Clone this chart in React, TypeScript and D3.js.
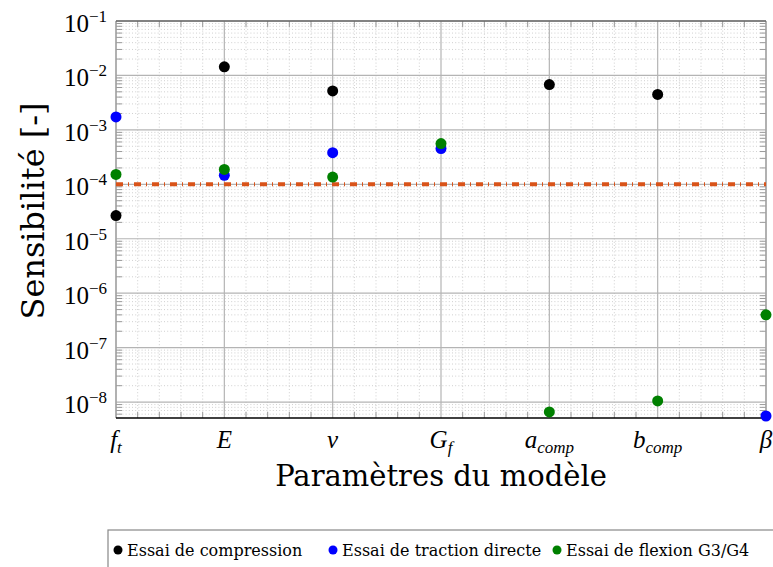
import React, { useRef, useEffect } from 'react';
import * as d3 from 'd3';

// paramètres du modèle (base + indice)
const categories = ['f_t', 'E', 'nu', 'G_f', 'a_comp', 'b_comp', 'beta'];
const catBase = ['f', 'E', 'ν', 'G', 'a', 'b', 'β'];
const catSub = ['t', '', '', 'f', 'comp', 'comp', ''];

// sensibilités (null = hors échelle)
const compression = [2.67e-5, 1.44e-2, 5.2e-3, null, 6.8e-3, 4.47e-3, null];
const traction = [1.73e-3, 1.46e-4, 3.82e-4, 4.53e-4, null, null, 5.55e-9];
const flexion = [1.52e-4, 1.88e-4, 1.36e-4, 5.6e-4, 6.6e-9, 1.05e-8, 4.0e-7];
const threshold = 1e-4;

const yTickExps = [-1, -2, -3, -4, -5, -6, -7, -8];
const seriesNames = ['Essai de compression', 'Essai de traction directe', 'Essai de flexion G3/G4'];
const seriesColors = ['#000000', '#0000ff', '#008000'];

const W = 773;
const H = 567;
const serif = "'DejaVu Serif', serif";
const math = "'Liberation Serif', serif";

const Chart: React.FC = () => {
  const ref = useRef<SVGSVGElement | null>(null);

  useEffect(() => {
    if (!ref.current) return;
    const svg = d3.select(ref.current);
    svg.selectAll('*').remove();

    const left = 116, right = 766, top = 21, bottom = 418;

    const x = d3.scaleLinear().domain([0, categories.length - 1]).range([left, right]);
    const y = d3.scaleLog().domain([5.1e-9, 1e-1]).range([bottom, top]);

    // minor values
    const minorY: number[] = [];
    for (let e = -9; e <= -2; e++) {
      for (let k = 2; k <= 9; k++) {
        const v = k * Math.pow(10, e);
        if (v >= 5.1e-9 && v < 1e-1) minorY.push(v);
      }
    }
    const minorX: number[] = [];
    for (let i = 0; i < categories.length - 1; i++) {
      for (let j = 1; j <= 4; j++) minorX.push(i + j / 5);
    }

    const grid = svg.append('g');
    // minor grid (dotted)
    grid.selectAll('.mgy').data(minorY).enter().append('line')
      .attr('x1', left).attr('x2', right)
      .attr('y1', d => y(d)).attr('y2', d => y(d))
      .attr('stroke', '#c4c4c4').attr('stroke-width', 0.8)
      .attr('stroke-dasharray', '1,2.2');
    grid.selectAll('.mgx').data(minorX).enter().append('line')
      .attr('x1', d => x(d)).attr('x2', d => x(d))
      .attr('y1', top).attr('y2', bottom)
      .attr('stroke', '#c4c4c4').attr('stroke-width', 0.8)
      .attr('stroke-dasharray', '1,2.2');
    // major grid
    grid.selectAll('.gy').data(yTickExps).enter().append('line')
      .attr('x1', left).attr('x2', right)
      .attr('y1', d => y(Math.pow(10, d))).attr('y2', d => y(Math.pow(10, d)))
      .attr('stroke', '#b4b4b4').attr('stroke-width', 1.2);
    grid.selectAll('.gx').data(categories.map((_, i) => i)).enter().append('line')
      .attr('x1', d => x(d)).attr('x2', d => x(d))
      .attr('y1', top).attr('y2', bottom)
      .attr('stroke', '#b4b4b4').attr('stroke-width', 1.2);

    // minor ticks
    const ticks = svg.append('g').attr('stroke', '#9a9a9a').attr('stroke-width', 1);
    minorY.forEach(v => {
      ticks.append('line').attr('x1', left).attr('x2', left + 6).attr('y1', y(v)).attr('y2', y(v));
      ticks.append('line').attr('x1', right).attr('x2', right - 6).attr('y1', y(v)).attr('y2', y(v));
    });
    minorX.forEach(v => {
      ticks.append('line').attr('x1', x(v)).attr('x2', x(v)).attr('y1', top).attr('y2', top + 6);
      ticks.append('line').attr('x1', x(v)).attr('x2', x(v)).attr('y1', bottom).attr('y2', bottom - 6);
    });

    // frame
    svg.append('line').attr('x1', left).attr('x2', left).attr('y1', top).attr('y2', bottom)
      .attr('stroke', '#a0a0a0').attr('stroke-width', 1.3);
    svg.append('line').attr('x1', right).attr('x2', right).attr('y1', top).attr('y2', bottom)
      .attr('stroke', '#a0a0a0').attr('stroke-width', 1.3);
    svg.append('line').attr('x1', left).attr('x2', right).attr('y1', top).attr('y2', top)
      .attr('stroke', '#666').attr('stroke-width', 1.5);
    svg.append('line').attr('x1', left).attr('x2', right).attr('y1', bottom).attr('y2', bottom)
      .attr('stroke', '#000').attr('stroke-width', 1.5);

    // seuil
    svg.append('line')
      .attr('x1', left).attr('x2', right)
      .attr('y1', y(threshold)).attr('y2', y(threshold))
      .attr('stroke', '#d95319').attr('stroke-width', 4)
      .attr('stroke-dasharray', '7,5,1,5');

    // points
    [compression, traction, flexion].forEach((vals, s) => {
      svg.append('g').selectAll('circle')
        .data(vals.map((v, i) => ({ i, v })).filter(d => d.v !== null))
        .enter().append('circle')
        .attr('cx', d => x(d.i))
        .attr('cy', d => y(d.v as number))
        .attr('r', 5.5)
        .attr('fill', seriesColors[s]);
    });

    // y tick labels
    const yl = svg.append('g').style('font-family', math).attr('fill', '#000');
    yTickExps.forEach(e => {
      const t = yl.append('text')
        .attr('x', left - 9).attr('y', y(Math.pow(10, e)) + 11)
        .attr('text-anchor', 'end').style('font-size', '25px');
      t.append('tspan').text('10');
      t.append('tspan').attr('dy', -10).style('font-size', '17px').text('−' + Math.abs(e));
    });

    // x tick labels
    const xl = svg.append('g').style('font-family', math).attr('fill', '#000');
    categories.forEach((c, i) => {
      const t = xl.append('text')
        .attr('x', x(i)).attr('y', 448)
        .attr('text-anchor', 'middle').style('font-size', '25px').style('font-style', 'italic');
      t.append('tspan').text(catBase[i]);
      if (catSub[i]) t.append('tspan').attr('dy', 5).style('font-size', '17px').text(catSub[i]);
    });

    // axis titles
    svg.append('text')
      .attr('x', (left + right) / 2).attr('y', 486)
      .attr('text-anchor', 'middle').style('font-family', serif).style('font-size', '29px')
      .text('Paramètres du modèle');
    svg.append('text')
      .attr('transform', `translate(44, 211) rotate(-90)`)
      .attr('text-anchor', 'middle').style('font-family', serif).style('font-size', '32px')
      .text('Sensibilité [-]');

    // legend
    const lg = svg.append('g');
    lg.append('rect').attr('x', 108).attr('y', 530).attr('width', 700).attr('height', 60)
      .attr('fill', '#fff').attr('stroke', '#888').attr('stroke-width', 1.2);
    const legendX = [118, 333, 557];
    seriesNames.forEach((n, s) => {
      lg.append('circle').attr('cx', legendX[s]).attr('cy', 550).attr('r', 4.5).attr('fill', seriesColors[s]);
      lg.append('text').attr('x', legendX[s] + 9).attr('y', 555.5)
        .style('font-family', serif).style('font-size', '16px').text(n);
    });
  }, []);

  return <svg ref={ref} width={W} height={H} style={{ display: 'block' }}></svg>;
};

export default function App() {
  return (
    <div style={{ position: 'absolute', left: 0, top: 0 }}>
      <Chart />
    </div>
  );
}
